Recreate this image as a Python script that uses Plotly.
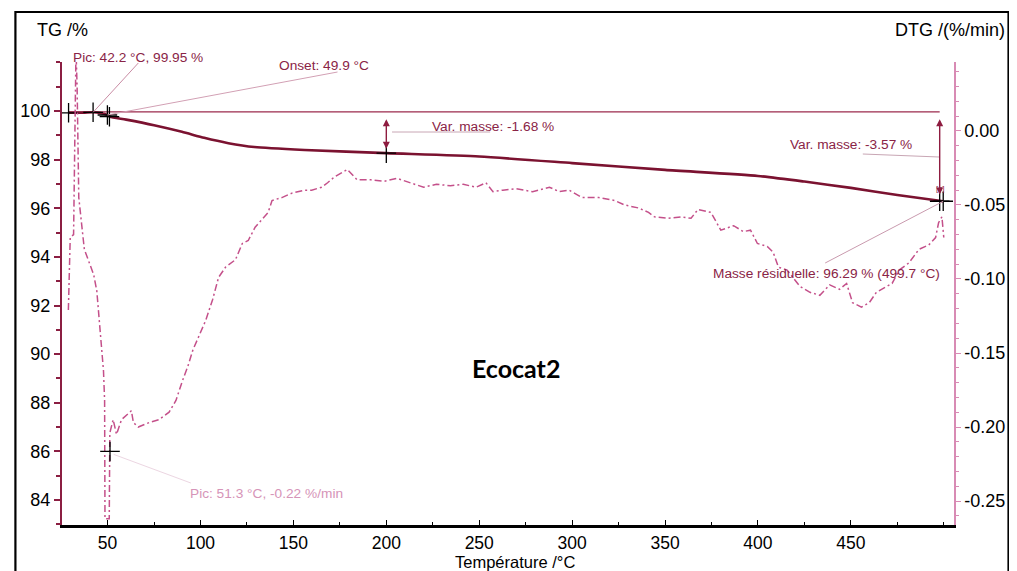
import plotly.graph_objects as go

# ---------------- data ----------------
tg_temp = [29.0, 35.0, 42.2, 46.0, 49.9, 51.3, 60, 75, 90, 102, 115, 129, 156, 200,
           250, 300, 350, 400, 425, 450, 475, 499.7]
tg_mass = [99.93, 99.93, 99.95, 99.92, 99.84, 99.77, 99.65, 99.42, 99.15, 98.9, 98.68,
           98.52, 98.4, 98.27, 98.13, 97.86, 97.58, 97.33, 97.1, 96.84, 96.55, 96.29]

dtg_temp = [28.9, 29.9, 31.7, 33.0, 33.6, 34.5, 37.5, 42.5, 44.2, 47.8, 48.4, 48.6, 50.9,
            51.2, 53.0, 54.8, 57.5, 62.8, 63.9, 66.5, 72.4, 77.7, 83.1, 86.8, 90.5, 93.2,
            95.9, 99.1, 102.8, 106.5, 109.7, 113.5, 118.8, 122.5, 125.7, 129.4, 136.4,
            138.5, 143.8, 149.2, 156.1, 159.8, 165.2, 168.4, 172.1, 179.0, 184.3, 191.8,
            198.7, 205.7, 213.1, 220.1, 227.0, 234.5, 241.4, 248.3, 253.6, 257.4, 262.7,
            269.6, 278.7, 287.8, 293.1, 298.4, 305.3, 314.4, 322.9, 328.3, 335.7, 341.1,
            344.3, 351.7, 358.7, 364.0, 367.7, 374.7, 380.0, 386.9, 392.2, 396.0, 399.7,
            405.0, 408.2, 411.0, 415.7, 422.6, 428.0, 433.3, 438.6, 443.9, 447.7, 450.9,
            455.7, 459.9, 463.7, 469.0, 472.2, 476.0, 481.3, 486.6, 491.9, 495.6, 497.2,
            499.0, 500.0]
dtg_value = [-0.121, -0.072, -0.070, 0.055, 0.030, -0.045, -0.080, -0.097, -0.108, -0.162,
             -0.182, -0.262, -0.262, -0.204, -0.195, -0.205, -0.195, -0.189, -0.197, -0.200,
             -0.197, -0.195, -0.190, -0.182, -0.168, -0.159, -0.148, -0.139, -0.128, -0.114,
             -0.099, -0.092, -0.087, -0.076, -0.074, -0.065, -0.055, -0.047, -0.045, -0.042,
             -0.040, -0.040, -0.038, -0.035, -0.031, -0.026, -0.033, -0.033, -0.034, -0.032,
             -0.035, -0.038, -0.036, -0.037, -0.036, -0.038, -0.035, -0.041, -0.040, -0.039,
             -0.041, -0.038, -0.041, -0.040, -0.045, -0.045, -0.047, -0.050, -0.052, -0.055,
             -0.058, -0.059, -0.058, -0.059, -0.053, -0.055, -0.067, -0.064, -0.068, -0.067,
             -0.076, -0.078, -0.082, -0.092, -0.094, -0.105, -0.109, -0.111, -0.104, -0.107,
             -0.103, -0.116, -0.119, -0.116, -0.109, -0.105, -0.103, -0.094, -0.089, -0.080,
             -0.077, -0.072, -0.062, -0.058, -0.072]

# marked points (crosshairs) on TG curve
mark_temp = [29.0, 42.2, 49.9, 51.0, 200.0, 497.8, 499.7]
mark_mass = [99.93, 99.95, 99.84, 99.77, 98.27, 96.29, 96.29]
# DTG peak
dtg_peak_temp = [51.3]
dtg_peak_value = [-0.2165]

baseline_mass = 99.97
step_temps = [200.0, 497.8]
step_end_mass = [98.29, 96.40]

x_ticks = [50, 100, 150, 200, 250, 300, 350, 400, 450]
tg_ticks = [84, 86, 88, 90, 92, 94, 96, 98, 100]
dtg_ticks = [0.0, -0.05, -0.10, -0.15, -0.20, -0.25]
dtg_ticktext = ["0.00", "-0.05", "-0.10", "-0.15", "-0.20", "-0.25"]

# ---------------- layout constants ----------------
OFF = 8  # page body margin added by the html page
W, H = 1017 - OFF, 571 - OFF
ML, MR, MT, MB = 55 - OFF, 1017 - 955, 62 - OFF, 571 - 525
PW, PH = W - ML - MR, H - MT - MB
XR = [25.47, 505.5]
TGR = [82.97, 102.02]
DTGR = [-0.2662, 0.0466]

# helpers take positions measured on the page (window pixels)
def px_x(px):
    return XR[0] + (px - OFF - ML) / PW * (XR[1] - XR[0])

def px_tg(py):
    return TGR[1] - (py - OFF - MT) / PH * (TGR[1] - TGR[0])

def px_dtg(py):
    return DTGR[1] - (py - OFF - MT) / PH * (DTGR[1] - DTGR[0])

def pp_x(px):
    return (px - OFF - ML) / PW

def pp_y(py):
    return (H - MB - (py - OFF)) / PH

MAROON = "#7b1230"
TXT_MAROON = "#8a2446"
PINK = "#c4508a"
FONT = "Liberation Sans, Arial, sans-serif"

fig = go.Figure()

# baseline reference line
fig.add_trace(go.Scatter(x=[tg_temp[0], step_temps[1]], y=[baseline_mass, baseline_mass],
                         mode="lines", line=dict(color="#9b2a4c", width=1.3),
                         hoverinfo="skip", showlegend=False))

# DTG curve
fig.add_trace(go.Scatter(x=dtg_temp, y=dtg_value, yaxis="y2", mode="lines",
                         line=dict(color=PINK, width=1.5, dash="7px,3px,2px,3px"),
                         showlegend=False))

# TG curve
fig.add_trace(go.Scatter(x=tg_temp, y=tg_mass, mode="lines",
                         line=dict(color=MAROON, width=2.6, shape="spline", smoothing=0.6),
                         showlegend=False))

# crosshair markers
fig.add_trace(go.Scatter(x=mark_temp, y=mark_mass, mode="markers",
                         marker=dict(symbol="cross-thin", size=14,
                                     line=dict(color="black", width=1.3)),
                         showlegend=False))
fig.add_trace(go.Scatter(x=dtg_peak_temp, y=dtg_peak_value, yaxis="y2", mode="markers",
                         marker=dict(symbol="cross-thin", size=14,
                                     line=dict(color="black", width=1.3)),
                         showlegend=False))

shapes = []
# leader lines
def leader(x0, y0, x1, y1, color, yref="y", width=1):
    shapes.append(dict(type="line", xref="x", yref=yref, x0=x0, y0=y0, x1=x1, y1=y1,
                       line=dict(color=color, width=width)))

leader(mark_temp[1], mark_mass[1], px_x(132), px_tg(63), "#c98ca4")
leader(mark_temp[2], mark_mass[2], px_x(333), px_tg(72), "#d2a0b4")
leader(px_x(388), px_tg(132), px_x(487), px_tg(132), "#c8a6b4")
leader(px_x(863), px_tg(154), px_x(940), px_tg(157), "#c8a6b4")
leader(mark_temp[6], mark_mass[6], px_x(825), px_tg(263), "#c99aae")
leader(dtg_peak_temp[0] + 2, dtg_peak_value[0] - 0.002, px_x(185), px_dtg(483), "#ecd6e2",
       yref="y2")

# outer frame
shapes.append(dict(type="rect", xref="paper", yref="paper",
                   x0=pp_x(8), x1=pp_x(1010), y0=pp_y(600), y1=pp_y(12),
                   line=dict(color="black", width=2.2), layer="below"))

annotations = []
# double-headed arrows for mass variations
for t, ym in zip(step_temps, step_end_mass):
    annotations.append(dict(x=t, y=ym, ax=t, ay=baseline_mass, xref="x", yref="y",
                            axref="x", ayref="y", text="", showarrow=True,
                            arrowhead=2, arrowsize=1, arrowwidth=1.4, arrowside="end+start",
                            arrowcolor="#8e1c40", standoff=4, startstandoff=6))

def label(text, px, py, color=TXT_MAROON, size=13.7, **kw):
    annotations.append(dict(x=pp_x(px), y=pp_y(py), xref="paper", yref="paper",
                            text=text, showarrow=False, xanchor=kw.get("xanchor", "center"),
                            yanchor="middle",
                            font=dict(family=kw.get("family", FONT), size=size, color=color)))

label("Pic: 42.2 °C, 99.95 %", 132, 57)
label("Onset: 49.9 °C", 319, 65)
label("Var. masse: -1.68 %", 490, 126)
label("Var. masse: -3.57 %", 851, 145)
label("Masse résiduelle: 96.29 % (499.7 °C)", 826, 273)
label("Pic: 51.3 °C, -0.22 %/min", 261, 493, color="#d694b8")
label("[z]", 941, 188, size=8)

# axis titles and chart label
label("TG /%", 28, 30, color="black", size=18, xanchor="left")
label("DTG /(%/min)", 1008, 30, color="black", size=18, xanchor="right")
label("Température /°C", 512, 561.5, color="black", size=16.5)
annotations.append(dict(x=pp_x(513), y=pp_y(368), xref="paper", yref="paper",
                        text="<b>Ecocat2</b>", showarrow=False,
                        font=dict(family="Lato, Carlito, sans-serif", size=25, color="black")))

fig.update_layout(
    width=W, height=H,
    margin=dict(l=ML, r=MR, t=MT, b=MB),
    paper_bgcolor="white", plot_bgcolor="white",
    showlegend=False,
    font=dict(family=FONT, size=18, color="black"),
    xaxis=dict(range=XR, tickvals=x_ticks, showgrid=False, zeroline=False,
               showline=True, linecolor="black", linewidth=2.5,
               ticks="inside", ticklen=5, tickwidth=1, tickcolor="black",
               minor=dict(dtick=25, tick0=0, ticks="inside", ticklen=3, tickcolor="black"),
               tickfont=dict(size=17.5)),
    yaxis=dict(range=TGR, tickvals=tg_ticks, showgrid=False, zeroline=False,
               showline=True, linecolor="#8b1e42", linewidth=2,
               ticks="outside", ticklen=6, tickwidth=1.5, tickcolor="#8b1e42",
               minor=dict(dtick=1, tick0=0, ticks="outside", ticklen=4, tickcolor="#8b1e42"),
               tickfont=dict(size=18)),
    yaxis2=dict(range=DTGR, overlaying="y", side="right", tickvals=dtg_ticks,
                ticktext=dtg_ticktext, showgrid=False, zeroline=False,
                showline=True, linecolor="#d88bb4", linewidth=1.5,
                ticks="outside", ticklen=5, tickwidth=1, tickcolor="#d88bb4",
                minor=dict(dtick=0.01, tick0=0, ticks="outside", ticklen=3,
                           tickcolor="#d88bb4"),
                tickfont=dict(size=18)),
    shapes=shapes,
    annotations=annotations,
)

fig.write_html("out.html")
